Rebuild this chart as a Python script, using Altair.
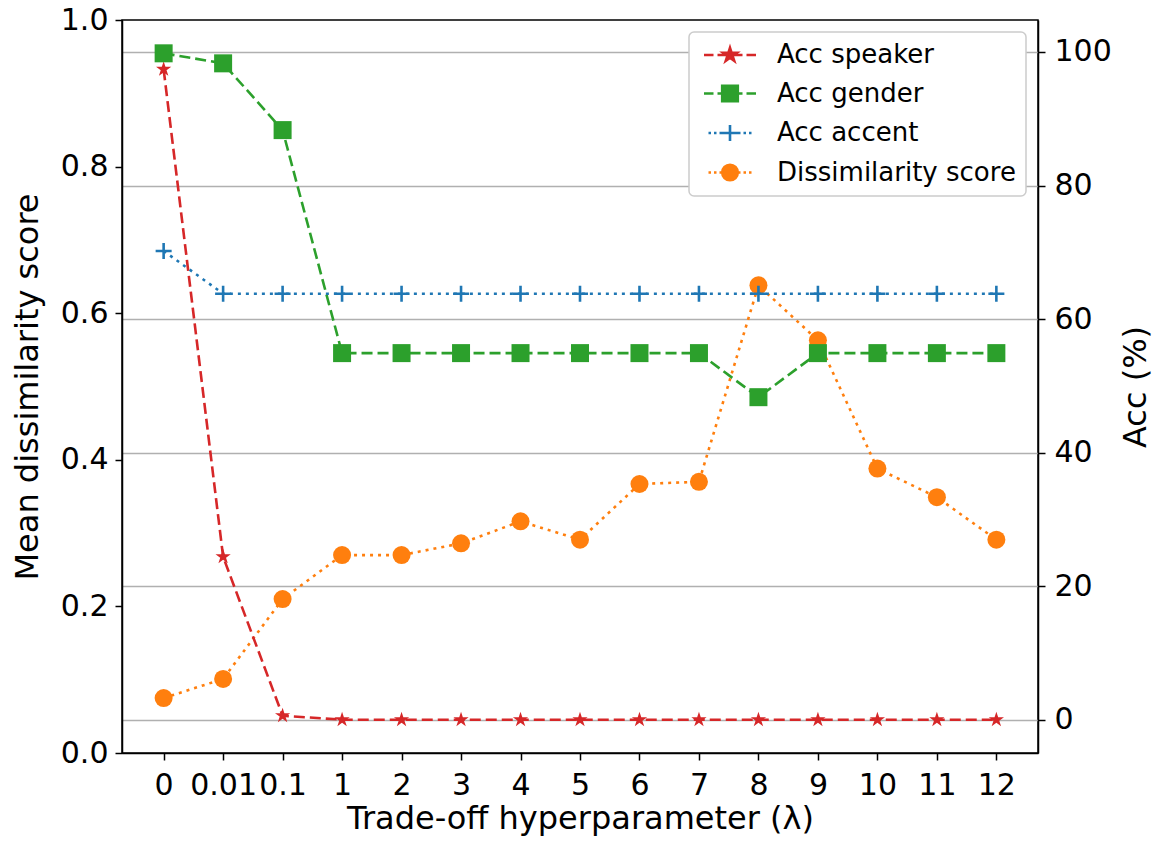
import math
import altair as alt
import pandas as pd

# ---------------- data ----------------
lambdas = ["0", "0.01", "0.1", "1", "2", "3", "4", "5", "6", "7", "8", "9", "10", "11", "12"]
acc_speaker = [97.4, 24.4, 0.6, 0, 0, 0, 0, 0, 0, 0, 0, 0, 0, 0, 0]
acc_gender = [99.8, 98.3, 88.3, 54.9, 54.9, 54.9, 54.9, 54.9, 54.9, 54.9, 48.3, 54.9, 54.9, 54.9, 54.9]
acc_accent = [70.2, 63.8, 63.8, 63.8, 63.8, 63.8, 63.8, 63.8, 63.8, 63.8, 63.8, 63.8, 63.8, 63.8, 63.8]
dissimilarity = [0.075, 0.101, 0.210, 0.270, 0.270, 0.286, 0.316, 0.291, 0.367, 0.370,
                 0.638, 0.563, 0.388, 0.349, 0.291]
series_names = ["Acc speaker", "Acc gender", "Acc accent", "Dissimilarity score"]
series_colors = ["#d62728", "#2ca02c", "#1f77b4", "#ff7f0e"]

df = pd.DataFrame({
    "lam": lambdas,
    "idx": list(range(len(lambdas))),
    "speaker": acc_speaker,
    "gender": acc_gender,
    "accent": acc_accent,
    "diss": dissimilarity,
})
legend_df = pd.DataFrame({"series": series_names})

RED, GREEN, BLUE, ORANGE = series_colors
LW = 2.6
DASHED = [11, 5]
DOTTED = [3, 5]
FONT = "DejaVu Sans"


# ---------------- marker shapes (style only) ----------------
def star_path(r_out, ratio=0.381966):
    pts = []
    for k in range(10):
        ang = math.radians(-90 + 36 * k)
        r = r_out if k % 2 == 0 else r_out * ratio
        pts.append((r * math.cos(ang), r * math.sin(ang)))
    return "M" + "L".join(f"{x:.3f},{y:.3f}" for x, y in pts) + "Z"


def square_path(h):
    return f"M{-h},{-h}L{h},{-h}L{h},{h}L{-h},{h}Z"


def circle_path(r):
    return f"M{-r},0A{r},{r} 0 1,0 {r},0A{r},{r} 0 1,0 {-r},0Z"


def plus_path(h):
    return f"M{-h},0L{h},0M0,{-h}L0,{h}"


def dash_line():
    segs = [(-2.6, -1.65), (-1.25, -0.3), (0.3, 1.25), (1.65, 2.6)]
    return "".join(f"M{a},0L{b},0" for a, b in segs)


def dot_line(half=2.6):
    out = []
    p = 0.8
    while p + 0.25 <= half + 1e-6:
        out.append(f"M{p:.2f},0L{p + 0.25:.2f},0")
        out.append(f"M{-p - 0.25:.2f},0L{-p:.2f},0")
        p += 0.55
    return "".join(out)


legend_paths = [
    dash_line() + star_path(0.72),
    dash_line() + square_path(0.78),
    dot_line() + plus_path(0.8),
    dot_line() + circle_path(0.78),
]

STAR = star_path(1.0)
PLUS = plus_path(1.0)

# ---------------- encodings ----------------
x_enc = alt.X(
    "lam:N",
    sort=lambdas,
    scale=alt.Scale(type="point", padding=0.7),
    axis=alt.Axis(
        title="Trade-off hyperparameter (λ)",
        labelAngle=0,
        labelOverlap=False,
        grid=False,
        labelPadding=10,
        titlePadding=3,
    ),
)
order_enc = alt.Order("idx:Q")

y_left = alt.Y(
    "diss:Q",
    scale=alt.Scale(domain=[0, 1], nice=False, zero=False),
    axis=alt.Axis(
        orient="left",
        values=[0, 0.2, 0.4, 0.6, 0.8, 1.0],
        format=".1f",
        grid=False,
        title="Mean dissimilarity score",
        labelPadding=7,
        titlePadding=16,
    ),
)


def y_right(field):
    return alt.Y(
        f"{field}:Q",
        scale=alt.Scale(domain=[-4.99, 104.79], nice=False, zero=False),
        axis=alt.Axis(
            orient="right",
            values=[0, 20, 40, 60, 80, 100],
            grid=True,
            title="Acc (%)",
            titleAngle=270,
            titleBaseline="top",
            labelPadding=9,
            titlePadding=9,
        ),
    )


base = alt.Chart(df)

diss_line = base.mark_line(color=ORANGE, strokeWidth=LW, strokeDash=DOTTED).encode(
    x=x_enc, y=y_left, order=order_enc)
diss_pts = base.mark_point(shape="circle", size=324, filled=True, color=ORANGE, opacity=1).encode(
    x=x_enc, y=y_left)
left = alt.layer(diss_line, diss_pts)

spk_line = base.mark_line(color=RED, strokeWidth=LW, strokeDash=DASHED).encode(
    x=x_enc, y=y_right("speaker"), order=order_enc)
spk_pts = base.mark_point(shape=STAR, size=256, filled=True, color=RED, opacity=1).encode(
    x=x_enc, y=y_right("speaker"))
gen_line = base.mark_line(color=GREEN, strokeWidth=LW, strokeDash=DASHED).encode(
    x=x_enc, y=y_right("gender"), order=order_enc)
gen_pts = base.mark_point(shape="square", size=324, filled=True, color=GREEN, opacity=1).encode(
    x=x_enc, y=y_right("gender"))
acc_line = base.mark_line(color=BLUE, strokeWidth=LW, strokeDash=DOTTED).encode(
    x=x_enc, y=y_right("accent"), order=order_enc)
acc_pts = base.mark_point(shape=PLUS, size=256, filled=False, color=BLUE, strokeWidth=LW, opacity=1).encode(
    x=x_enc, y=y_right("accent"))

leg = alt.Legend(
    title=None,
    orient="top-right",
    offset=12,
    symbolSize=400,
    symbolStrokeWidth=LW,
    symbolOffset=18,
    labelOffset=34,
    rowPadding=12.5,
    padding=10,
    labelFontSize=26,
    labelFont=FONT,
    labelColor="black",
    labelLimit=500,
)
legend_layer = alt.Chart(legend_df).transform_filter("false").mark_point(filled=True, opacity=1).encode(
    fill=alt.Fill("series:N", scale=alt.Scale(domain=series_names, range=series_colors), legend=leg),
    stroke=alt.Stroke("series:N", scale=alt.Scale(domain=series_names, range=series_colors), legend=leg),
    shape=alt.Shape("series:N", scale=alt.Scale(domain=series_names, range=legend_paths), legend=leg),
)

right = alt.layer(spk_line, spk_pts, gen_line, gen_pts, acc_line, acc_pts, legend_layer)

chart = (
    alt.layer(left, right)
    .resolve_scale(y="independent")
    .properties(
        width=916,
        height=733,
        autosize=alt.AutoSizeParams(type="none"),
        padding={"left": 114, "top": 12, "right": 115, "bottom": 84},
    )
    .configure_view(stroke="black", strokeWidth=1.5)
    .configure_axis(
        domainColor="black",
        domainWidth=1.5,
        tickColor="black",
        tickWidth=1.5,
        tickSize=7,
        labelFont=FONT,
        labelFontSize=30,
        labelColor="black",
        titleFont=FONT,
        titleFontSize=32,
        titleFontWeight="normal",
        titleColor="black",
        gridColor="#b0b0b0",
        gridWidth=1.5,
    )
    .configure_legend(
        strokeColor="#cccccc",
        strokeWidth=1.5,
        fillColor="white",
        cornerRadius=5,
    )
)

chart.save("out.html", embed_options={"renderer": "svg", "actions": False})
